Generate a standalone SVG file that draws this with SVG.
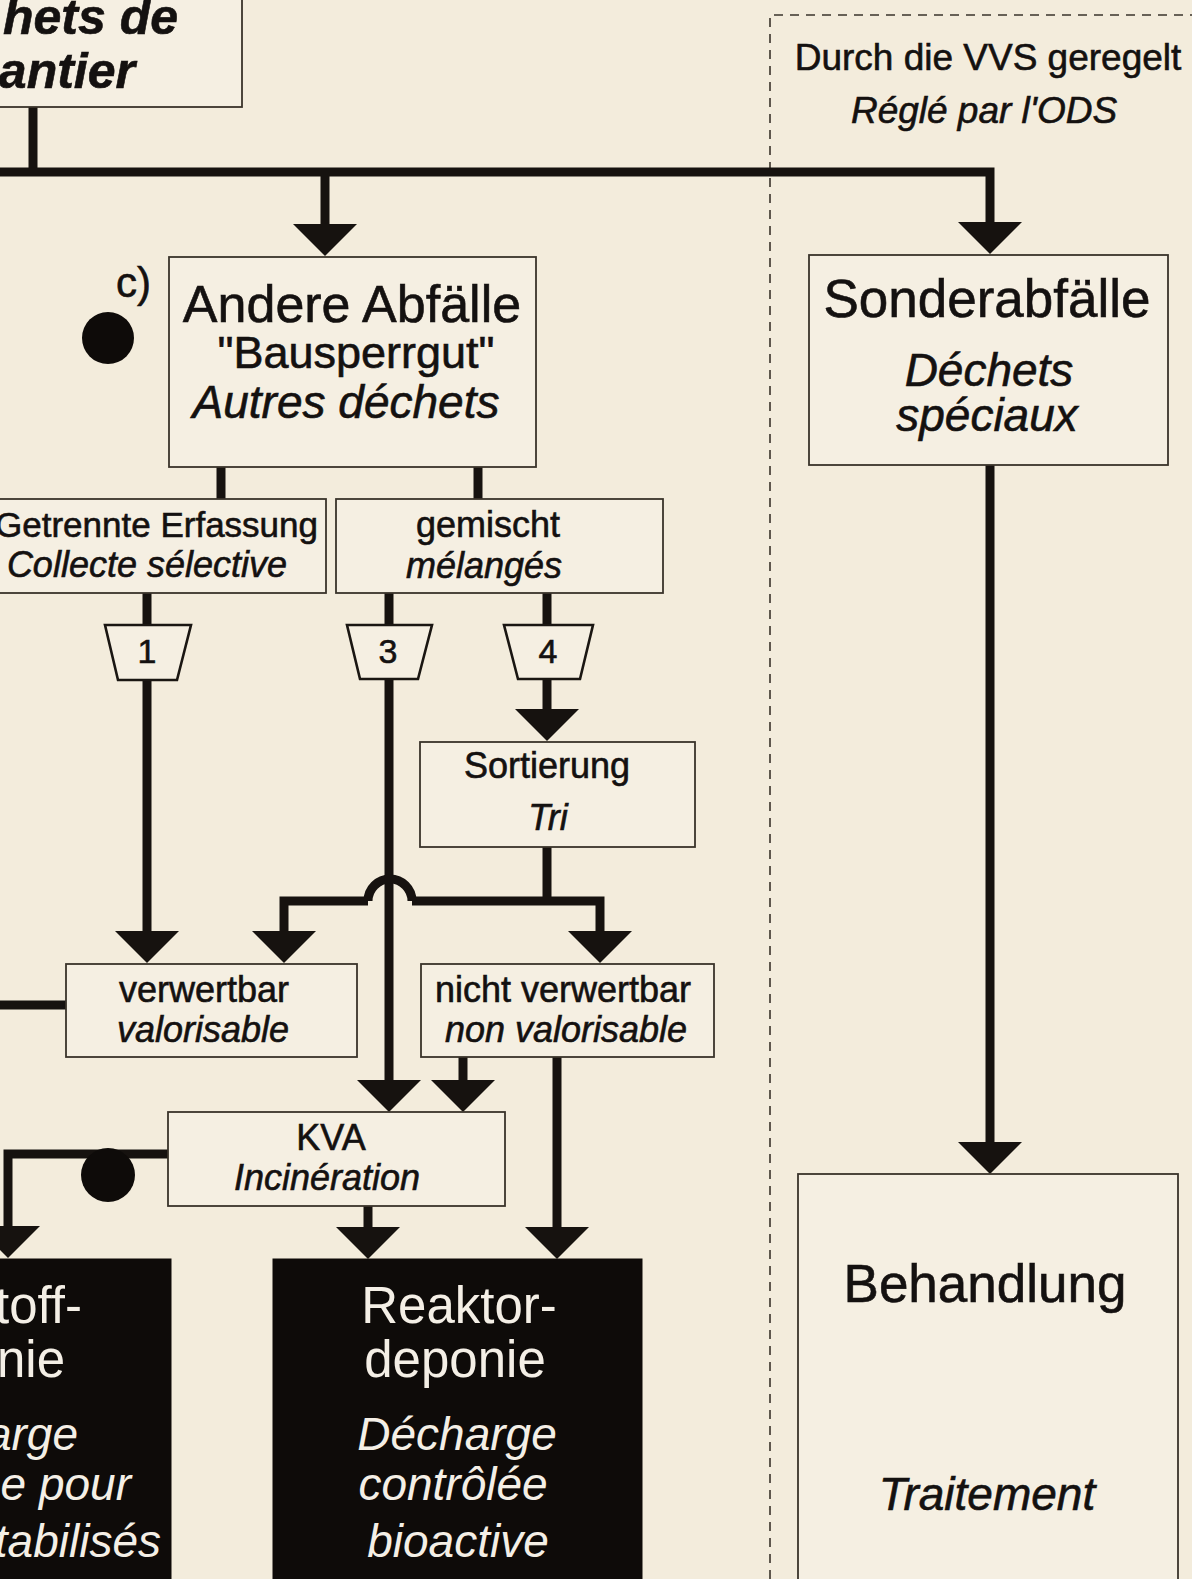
<svg xmlns="http://www.w3.org/2000/svg" width="1192" height="1579" viewBox="0 0 1192 1579">
<defs>
<style>
.bg{fill:#f3ecdc}
.box{fill:#f5efe2;stroke:#3a332b;stroke-width:1.8}
.blk{fill:#0e0b09;stroke:#0e0b09;stroke-width:1}
.trap{fill:#f5efe2;stroke:#1a1612;stroke-width:2.6}
.ln{fill:none;stroke:#16120f;stroke-width:9;stroke-linejoin:miter}
.arr{fill:none;stroke:#16120f;stroke-width:9;marker-end:url(#ah)}
.dash{fill:none;stroke:#3a332b;stroke-width:1.6;stroke-dasharray:9 7}
text{font-family:"Liberation Sans",Arial,Helvetica,sans-serif;fill:#141110;stroke:#141110;stroke-width:0.6}
.c{text-anchor:middle}
.e{text-anchor:end}
.i{font-style:italic}
.w{fill:#f4efe6;stroke:none}
.t36{font-size:36px}
.t46{font-size:46px}
</style>
<marker id="ah" markerUnits="userSpaceOnUse" markerWidth="36" markerHeight="66" viewBox="0 -33 36 66" refX="2" refY="0" orient="auto">
<polygon points="0,-32 32,0 0,32" fill="#16120f"/>
</marker>
</defs>
<rect class="bg" x="0" y="0" width="1192" height="1579"/>
<path class="dash" d="M770,1579 V15 H1192"/>
<g id="label-vvs">
<text class="c" x="988" y="70" font-size="37">Durch die VVS geregelt</text>
<text class="c i" x="984" y="123" font-size="37">Réglé par l'ODS</text>
</g>
<g id="connectors">
<path class="ln" d="M33,105 V172"/>
<path class="arr" d="M0,172 H990 V224"/>
<path class="arr" d="M325,172 V226"/>
<path class="ln" d="M221,467 V499"/>
<path class="ln" d="M478,467 V499"/>
<path class="ln" d="M147,593 V625"/>
<path class="arr" d="M147,680 V933"/>
<path class="ln" d="M389,593 V625"/>
<path class="arr" d="M389,679 V1082"/>
<path class="ln" d="M547,593 V625"/>
<path class="arr" d="M547,679 V711"/>
<path class="ln" d="M547,847 V901"/>
<path class="arr" d="M368,901 H284 V933"/>
<path class="arr" d="M412,901 H600 V933"/>
<path class="ln" d="M368,901 A22,22 0 0 1 412,901"/>
<path class="ln" d="M66,1005 H0"/>
<path class="arr" d="M463,1057 V1082"/>
<path class="arr" d="M557,1057 V1229"/>
<path class="arr" d="M368,1206 V1229"/>
<path class="arr" d="M168,1154 H8 V1228"/>
<path class="arr" d="M990,465 V1144"/>
</g>
<g id="node-chantier">
<rect class="box" x="-5" y="-5" width="247" height="112"/>
<text class="e i" x="178" y="34" font-size="50" font-weight="bold">hets de</text>
<text class="e i" x="135" y="88" font-size="50" font-weight="bold">antier</text>
</g>
<g id="node-andere">
<rect class="box" x="169" y="257" width="367" height="210"/>
<text class="c" x="352" y="322" font-size="52">Andere Abfälle</text>
<text class="c" x="356" y="368" font-size="45">"Bausperrgut"</text>
<text class="c i" x="346" y="418" font-size="46">Autres déchets</text>
</g>
<g id="marker-c">
<circle cx="108" cy="338" r="26" fill="#0e0b09"/>
<text x="116" y="297" font-size="42">c)</text>
</g>
<g id="node-sonder">
<rect class="box" x="809" y="255" width="359" height="210"/>
<text class="c" x="987" y="317" font-size="53">Sonderabfälle</text>
<text class="c i" x="989" y="386" font-size="46">Déchets</text>
<text class="c i" x="987" y="431" font-size="46">spéciaux</text>
</g>
<g id="node-getrennt">
<rect class="box" x="-5" y="499" width="331" height="94"/>
<text class="e" x="318" y="537" font-size="35">Getrennte Erfassung</text>
<text class="e i t36" x="287" y="577">Collecte sélective</text>
</g>
<g id="node-gemischt">
<rect class="box" x="336" y="499" width="327" height="94"/>
<text class="c t36" x="488" y="537">gemischt</text>
<text class="c i t36" x="484" y="578">mélangés</text>
</g>
<g id="node-t1">
<polygon class="trap" points="105,625 191,625 177,680 118,680"/>
<text class="c" x="147" y="663" font-size="34">1</text>
</g>
<g id="node-t3">
<polygon class="trap" points="347,625 432,625 418,679 360,679"/>
<text class="c" x="388" y="663" font-size="34">3</text>
</g>
<g id="node-t4">
<polygon class="trap" points="504,625 593,625 580,679 518,679"/>
<text class="c" x="548" y="663" font-size="34">4</text>
</g>
<g id="node-sortierung">
<rect class="box" x="420" y="742" width="275" height="105"/>
<text class="c t36" x="547" y="778">Sortierung</text>
<text class="c i t36" x="548" y="830">Tri</text>
</g>
<g id="node-verwertbar">
<rect class="box" x="66" y="964" width="291" height="93"/>
<text class="c t36" x="204" y="1002">verwertbar</text>
<text class="c i t36" x="203" y="1042">valorisable</text>
</g>
<g id="node-nichtverwertbar">
<rect class="box" x="421" y="964" width="293" height="93"/>
<text class="c t36" x="563" y="1002">nicht verwertbar</text>
<text class="c i t36" x="566" y="1042">non valorisable</text>
</g>
<g id="node-kva">
<rect class="box" x="168" y="1112" width="337" height="94"/>
<text class="c t36" x="331" y="1150">KVA</text>
<text class="c i t36" x="327" y="1190">Incinération</text>
</g>
<g id="marker-kva">
<circle cx="108" cy="1175" r="27" fill="#0e0b09"/>
</g>
<g id="node-reststoff">
<rect class="blk" x="-5" y="1259" width="176" height="330"/>
<text class="e w" x="82" y="1323" font-size="51">toff-</text>
<text class="e w" x="65" y="1377" font-size="51">nie</text>
<text class="e i w t46" x="78" y="1450">arge</text>
<text class="e i w t46" x="131" y="1500">ée pour</text>
<text class="e i w t46" x="161" y="1557">tabilisés</text>
</g>
<g id="node-reaktor">
<rect class="blk" x="273" y="1259" width="369" height="330"/>
<text class="c w" x="459" y="1323" font-size="51">Reaktor-</text>
<text class="c w" x="455" y="1377" font-size="51">deponie</text>
<text class="c i w t46" x="457" y="1450">Décharge</text>
<text class="c i w t46" x="453" y="1500">contrôlée</text>
<text class="c i w t46" x="458" y="1557">bioactive</text>
</g>
<g id="node-behandlung">
<rect class="box" x="798" y="1174" width="380" height="420"/>
<text class="c" x="985" y="1302" font-size="53">Behandlung</text>
<text class="c i t46" x="987" y="1510">Traitement</text>
</g>
</svg>
